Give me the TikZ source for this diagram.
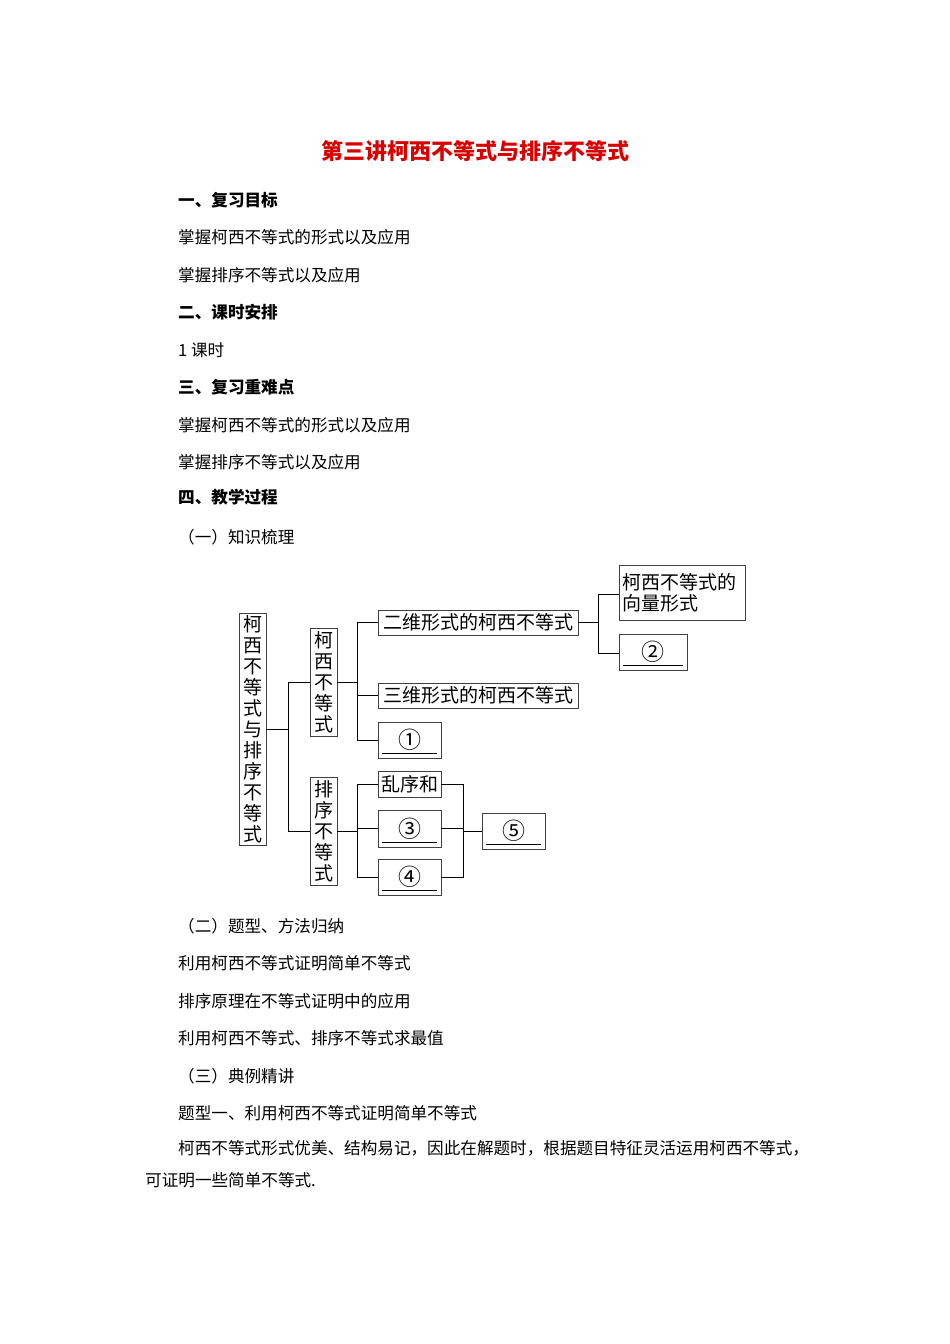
\documentclass[tikz,border=0pt]{standalone}
\usepackage{fontspec}
\newfontfamily\cjk{Noto Sans CJK SC}
\begin{document}
\begin{tikzpicture}[x=1pt,y=-1pt,
  body/.style={anchor=west,inner sep=0pt,font=\cjk\fontsize{16.6}{18}\selectfont},
  head/.style={body,font=\cjk\bfseries\fontsize{16.6}{18}\selectfont},
  bx/.style={draw=black!75,line width=0.9pt,inner sep=0pt,font=\cjk\fontsize{19}{21}\selectfont,align=center},
  num/.style={bx,font=\cjk\fontsize{23}{23}\selectfont},
  ln/.style={line width=0.9pt},
  ul/.style={line width=0.6pt}]
\useasboundingbox (0,0) rectangle (950,1344);
\node[font=\cjk\bfseries\fontsize{22}{24}\selectfont,text=red!85!black] (title) at (475,151) {第三讲柯西不等式与排序不等式};
\node[head] (h1) at (178,200) {一、复习目标};
\node[body] (t1) at (178,237) {掌握柯西不等式的形式以及应用};
\node[body] (t2) at (178,275) {掌握排序不等式以及应用};
\node[head] (h2) at (178,312) {二、课时安排};
\node[body] (t3) at (178,350) {1 课时};
\node[head] (h3) at (178,387) {三、复习重难点};
\node[body] (t4) at (178,425) {掌握柯西不等式的形式以及应用};
\node[body] (t5) at (178,462) {掌握排序不等式以及应用};
\node[head] (h4) at (178,497) {四、教学过程};
\node[body] (t6) at (178,537) {（一）知识梳理};
\node[body] (t7) at (178,926) {（二）题型、方法归纳};
\node[body] (t8) at (178,963) {利用柯西不等式证明简单不等式};
\node[body] (t9) at (178,1001) {排序原理在不等式证明中的应用};
\node[body] (t10) at (178,1038) {利用柯西不等式、排序不等式求最值};
\node[body] (t11) at (178,1076) {（三）典例精讲};
\node[body] (t12) at (178,1113) {题型一、利用柯西不等式证明简单不等式};
\node[body] (t13) at (178,1148) {柯西不等式形式优美、结构易记，因此在解题时，根据题目特征灵活运用柯西不等式，};
\node[body] (t14) at (145,1180) {可证明一些简单不等式.};
% diagram
\node[bx,minimum width=27,minimum height=232] (root) at (252.5,729) {柯\\西\\不\\等\\式\\与\\排\\序\\不\\等\\式};
\node[bx,minimum width=27,minimum height=108] (kx) at (323.5,682) {柯\\西\\不\\等\\式};
\node[bx,minimum width=27,minimum height=108] (px) at (323.5,831) {排\\序\\不\\等\\式};
\node[bx,minimum width=200,minimum height=25] (ew) at (478,622.5) {二维形式的柯西不等式};
\node[bx,minimum width=200,minimum height=25] (sw) at (478,695.5) {三维形式的柯西不等式};
\node[num,minimum width=63,minimum height=36] (c1) at (409.5,740) {①};
\node[bx,align=left,minimum width=126,minimum height=55,text width=120] (xl) at (682,592.5) {柯西不等式的\\向量形式};
\node[num,minimum width=68,minimum height=36] (c2) at (653,652) {②};
\node[bx,minimum width=63,minimum height=26] (lx) at (409.5,784) {乱序和};
\node[num,minimum width=63,minimum height=37] (c3) at (409.5,828.5) {③};
\node[num,minimum width=63,minimum height=36] (c4) at (409.5,877) {④};
\node[num,minimum width=63,minimum height=36] (c5) at (513.5,831) {⑤};
\foreach \n in {c1,c2,c3,c4,c5}{\draw[ul] ([xshift=4pt,yshift=5pt]\n.south west) -- ([xshift=-4pt,yshift=5pt]\n.south east);}
\coordinate (j1) at (288,729);
\draw[ln] (root.east) -- (j1);
\draw[ln] (kx.west -| j1) -- (j1 |- px.west);
\draw[ln] (kx.west -| j1) -- (kx.west);
\draw[ln] (px.west -| j1) -- (px.west);
\coordinate (j2) at (357,682);
\draw[ln] (kx.east) -- (j2);
\draw[ln] (ew.west -| j2) -- (j2 |- c1.west);
\draw[ln] (ew.west -| j2) -- (ew.west);
\draw[ln] (sw.west -| j2) -- (sw.west);
\draw[ln] (c1.west -| j2) -- (c1.west);
\coordinate (j3) at (598,622.5);
\draw[ln] (ew.east) -- (j3);
\draw[ln] (598,594) -- (598,653);
\draw[ln] (598,594) -- (xl.west |- 0,594);
\draw[ln] (598,653) -- (c2.west |- 0,653);
\coordinate (j4) at (357,831);
\draw[ln] (px.east) -- (j4);
\draw[ln] (lx.west -| j4) -- (j4 |- c4.west);
\draw[ln] (lx.west -| j4) -- (lx.west);
\draw[ln] (c3.west -| j4) -- (c3.west);
\draw[ln] (c4.west -| j4) -- (c4.west);
\coordinate (j5) at (463,831);
\draw[ln] (lx.east) -- (lx.east -| j5) -- (c4.east -| j5) -- (c4.east);
\draw[ln] (c3.east) -- (c3.east -| j5);
\draw[ln] (j5) -- (c5.west);
\end{tikzpicture}
\end{document}
